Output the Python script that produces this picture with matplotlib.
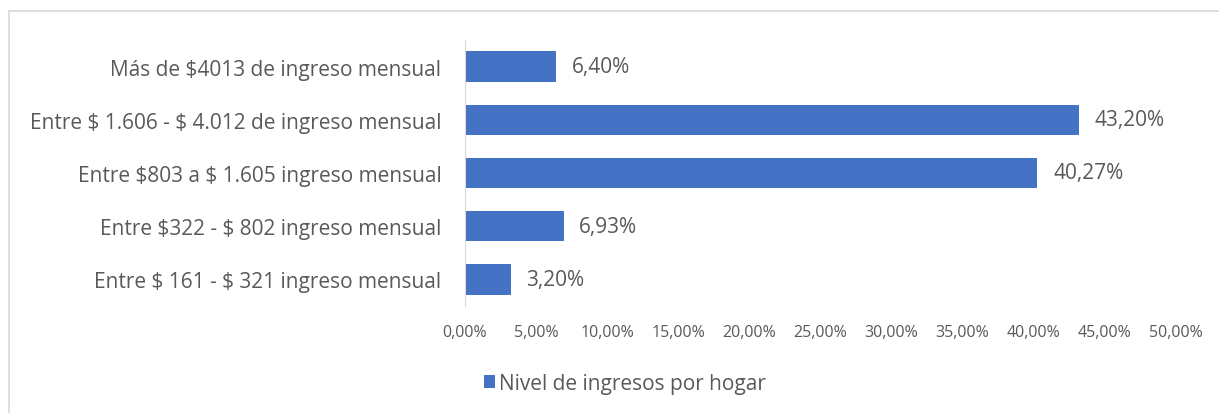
import matplotlib.pyplot as plt
from matplotlib.patches import Rectangle

categorias = [
    'Entre $ 161 - $ 321 ingreso mensual',
    'Entre $322 - $ 802 ingreso mensual',
    'Entre $803 a $ 1.605 ingreso mensual',
    'Entre $ 1.606 - $ 4.012 de ingreso mensual',
    'Más de $4013 de ingreso mensual',
]
valores = [3.20, 6.93, 40.27, 43.20, 6.40]
ticks = [0, 5, 10, 15, 20, 25, 30, 35, 40, 45, 50]
serie = 'Nivel de ingresos por hogar'

azul = '#4472c4'
gris = '#595959'

plt.rcParams['font.family'] = ['Open Sans', 'DejaVu Sans']
plt.rcParams['text.parse_math'] = False

fig = plt.figure(figsize=(12.19, 4.14), dpi=100)
ax = fig.add_axes([0.3815, 0.2585, 0.583, 0.6425])

y = range(len(categorias))
bars = ax.barh(y, valores, height=0.57, color=azul, label=serie)

for b, v in zip(bars, valores):
    ax.text(b.get_width() + 1.1, b.get_y() + b.get_height() / 2,
            ('%.2f%%' % v).replace('.', ','), va='center', ha='left',
            fontsize=15, color=gris)

ax.set_xlim(0, 50)
ax.set_ylim(-0.5, 4.5)
ax.set_yticks(list(y))
ax.set_yticklabels(categorias, fontsize=15, color=gris)
ax.set_xticks(ticks)
ax.set_xticklabels([('%.2f%%' % t).replace('.', ',') for t in ticks],
                   fontsize=11.5, color=gris)
ax.tick_params(axis='x', length=0, pad=13)
ax.tick_params(axis='y', length=0, pad=17)
for s in ['top', 'right', 'bottom']:
    ax.spines[s].set_visible(False)
ax.spines['left'].set_color('#d9d9d9')

ax.legend(loc='center left', bbox_to_anchor=(0.026, -0.29), frameon=False,
          fontsize=15, labelcolor=gris, handlelength=0.55, handleheight=0.55,
          handletextpad=0.2, borderpad=0, borderaxespad=0)

fig.patches.append(Rectangle((9 / 1219, -0.05), 1.1, 1 - 12 / 414 + 0.05,
                             transform=fig.transFigure, fill=False,
                             edgecolor='#d9d9d9', linewidth=1.2))

fig.savefig('out.png', dpi=100)
